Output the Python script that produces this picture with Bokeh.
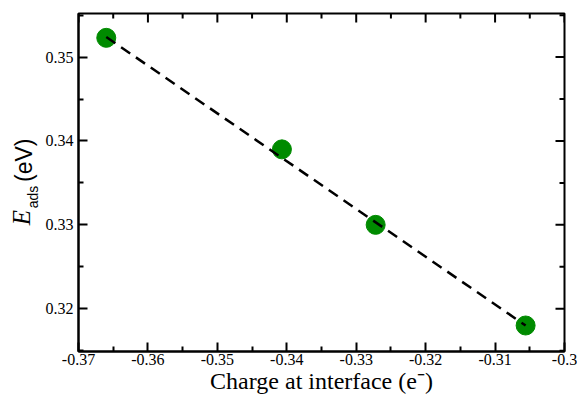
import numpy as np
from bokeh.plotting import figure
from bokeh.layouts import row
from bokeh.models import LinearAxis, FixedTicker, Range1d
from bokeh.core.properties import value
from bokeh.embed import file_html
from bokeh.resources import INLINE

# data
charge = [-0.3660, -0.3407, -0.3272, -0.3056]
eads = [0.3523, 0.3390, 0.3300, 0.3180]
fit_x = [-0.3660, -0.3056]
fit_y = [0.3524, 0.3180]

x_major = [-0.37, -0.36, -0.35, -0.34, -0.33, -0.32, -0.31, -0.30]
x_labels = ["-0.37", "-0.36", "-0.35", "-0.34", "-0.33", "-0.32", "-0.31", "-0.3"]
x_minor = [-0.365, -0.355, -0.345, -0.335, -0.325, -0.315, -0.305]
y_major = [0.32, 0.33, 0.34, 0.35]
y_labels = ["0.32", "0.33", "0.34", "0.35"]
y_minor = [0.315, 0.325, 0.335, 0.345, 0.355]

x_lo, x_hi = -0.37, -0.30
y_lo, y_hi = 0.3149, 0.3552

LW = 40  # width of the strip holding the y-axis title

p = figure(width=577 - LW, height=396, output_backend="svg", toolbar_location=None,
           x_range=Range1d(x_lo, x_hi), y_range=Range1d(y_lo, y_hi),
           x_axis_type=None, y_axis_type=None,
           min_border_left=78 - LW, min_border_right=13, min_border_top=13, min_border_bottom=42)
p.xgrid.visible = False
p.ygrid.visible = False
p.outline_line_color = "black"
p.outline_line_width = 2
p.background_fill_color = "white"
p.border_fill_color = "white"

def style(ax):
    ax.axis_line_color = "black"
    ax.axis_line_width = 2
    ax.major_tick_in = 9
    ax.major_tick_out = 0
    ax.minor_tick_in = 5
    ax.minor_tick_out = 0
    ax.major_tick_line_width = 2
    ax.minor_tick_line_width = 2
    ax.major_label_text_font = "Liberation Serif"
    ax.major_label_text_font_size = "16px"
    ax.major_label_text_color = "black"

xt = FixedTicker(ticks=x_major, minor_ticks=x_minor)
yt = FixedTicker(ticks=y_major, minor_ticks=y_minor)
xover = {v: s for v, s in zip(x_major, x_labels)}
yover = {v: s for v, s in zip(y_major, y_labels)}

xb = LinearAxis(ticker=xt, major_label_overrides=xover,
                axis_label="Charge at interface (e\u207b)")
style(xb)
xb.major_label_standoff = 2
xb.axis_label_text_font = "Liberation Serif"
xb.axis_label_text_font_style = "normal"
xb.axis_label_text_font_size = "24px"
xb.axis_label_text_color = "black"
xb.axis_label_standoff = 0
p.add_layout(xb, "below")

yl = LinearAxis(ticker=yt, major_label_overrides=yover)
style(yl)
yl.major_label_standoff = 5
p.add_layout(yl, "left")

# mirrored inward ticks on top and right edges (markers clipped by the frame)
tick_kw = dict(marker="dash", line_color="black", line_width=2)
p.scatter(x_major, [y_hi] * len(x_major), angle=np.pi / 2, size=18, **tick_kw)
p.scatter(x_minor, [y_hi] * len(x_minor), angle=np.pi / 2, size=10, **tick_kw)
p.scatter([x_hi] * len(y_major), y_major, size=18, **tick_kw)
p.scatter([x_hi] * len(y_minor), y_minor, size=10, **tick_kw)

p.scatter(charge, eads, size=19, color="#008b00", line_color="#008b00")
p.line(fit_x, fit_y, line_color="black", line_width=2.5, line_dash="11 7")

# strip with the y-axis title (pixel coordinates, y downward)
t = figure(width=LW, height=396, output_backend="svg", toolbar_location=None,
           x_range=Range1d(0, LW), y_range=Range1d(396, 0),
           x_axis_type=None, y_axis_type=None, min_border=0)
t.xgrid.visible = False
t.ygrid.visible = False
t.outline_line_color = None
t.background_fill_color = "white"
t.border_fill_color = "white"
t.text(x=[21], y=[239], text=["E"], angle=np.pi / 2,
       text_font=value("Liberation Serif"), text_font_style="italic",
       text_font_size="25px", text_align="center", text_baseline="middle", text_color="black")
t.text(x=[32], y=[215], text=["ads"], angle=np.pi / 2,
       text_font=value("Liberation Sans"),
       text_font_size="14px", text_align="center", text_baseline="middle", text_color="black")
t.text(x=[23], y=[172], text=["(eV)"], angle=np.pi / 2,
       text_font=value("Liberation Sans"),
       text_font_size="23px", text_align="center", text_baseline="middle", text_color="black")

layout = row(t, p, spacing=0)
open("out.html", "w").write(file_html(layout, INLINE))
